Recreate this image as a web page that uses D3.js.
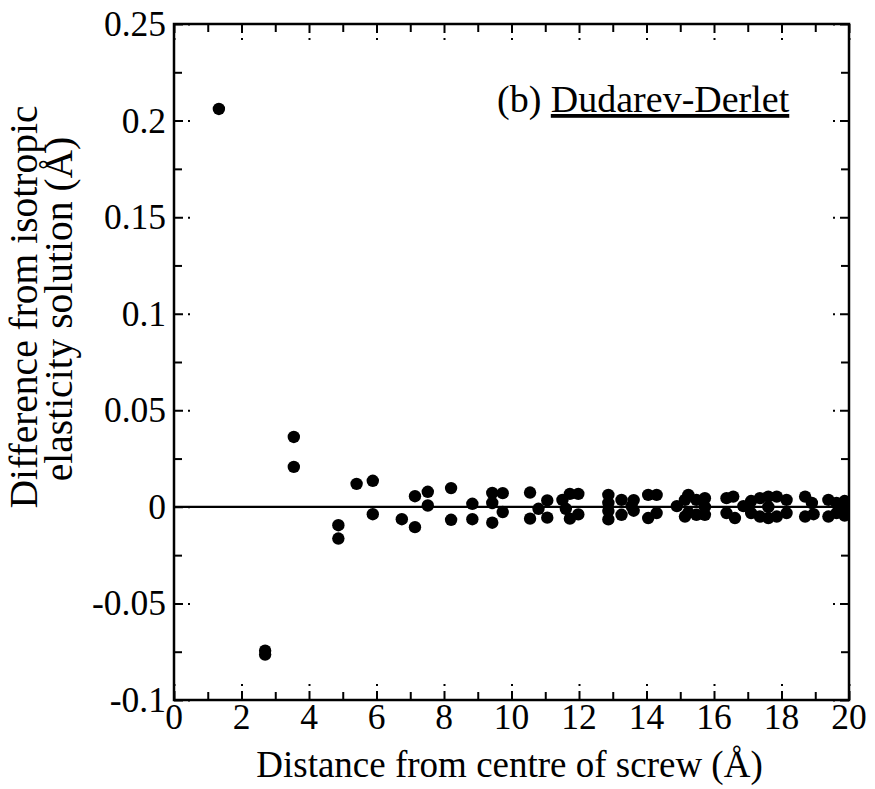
<!DOCTYPE html>
<html><head><meta charset="utf-8">
<script src="https://cdn.jsdelivr.net/npm/d3@7"></script>
<style>body{margin:0;background:#fff}svg{display:block}text{font-family:"Liberation Serif","Times New Roman",serif;fill:#000}</style>
</head><body><svg id="c" width="875" height="789"></svg>
<script>
const distance = [1.33,2.70,2.70,3.55,3.55,4.87,4.87,5.41,5.89,5.89,6.75,7.14,7.14,7.52,7.52,8.21,8.21,8.84,8.84,
 9.43,9.43,9.43,9.74,9.74,10.55,10.55,10.80,11.06,11.06,11.51,11.61,11.73,11.73,11.98,11.98,
 12.87,12.87,12.87,12.87,13.26,13.26,13.56,13.62,13.62,14.05,14.05,14.30,14.30,14.90,
 15.14,15.24,15.14,15.24,15.48,15.48,15.73,15.73,15.73,16.37,16.37,16.57,16.62,16.87,
 17.10,17.10,17.36,17.36,17.61,17.61,17.61,17.86,17.86,18.15,18.15,18.70,18.70,18.90,18.95,
 19.39,19.39,19.63,19.63,19.87,19.87,19.90];
const difference = [0.206,-0.0745,-0.0765,0.0362,0.0207,-0.0095,-0.0164,0.0119,0.0135,-0.0038,-0.0064,0.0055,-0.0105,0.0078,0.0007,0.0097,-0.0067,0.0016,-0.0064,
 0.0072,0.0020,-0.0082,0.0071,-0.0027,0.0074,-0.0061,-0.0010,0.0033,-0.0056,0.0036,-0.0010,0.0067,-0.0061,0.0067,-0.0039,
 0.0062,0.0020,-0.0022,-0.0065,0.0036,-0.0041,0.0004,0.0035,-0.0020,0.0062,-0.0058,0.0062,-0.0032,0.0004,
 0.0036,0.0062,-0.0050,-0.0030,0.0036,-0.0041,0.0045,0.0000,-0.0041,0.0045,-0.0032,0.0053,-0.0058,0.0004,
 0.0030,-0.0032,0.0045,-0.0050,0.0053,0.0000,-0.0058,0.0053,-0.0050,0.0036,-0.0032,0.0053,-0.0050,0.0020,-0.0038,
 0.0036,-0.0050,0.0020,-0.0032,0.0030,-0.0045,0.0000];
const xTicks = [0,2,4,6,8,10,12,14,16,18,20];
const xMinor = [1,3,5,7,9,11,13,15,17,19];
const yTicks = [-0.1,-0.05,0,0.05,0.1,0.15,0.2,0.25];
const yMinor = [-0.075,-0.025,0.025,0.075,0.125,0.175,0.225];
const yTickLabels = ["-0.1","-0.05","0","0.05","0.1","0.15","0.2","0.25"];

const L=174,T=24,R=849,B=700;
const svg=d3.select("#c");
const x=d3.scaleLinear().domain([0,20]).range([L,R]);
const y=d3.scaleLinear().domain([-0.1,0.25]).range([B,T]);

svg.append("clipPath").attr("id","clip").append("rect").attr("x",L).attr("y",T).attr("width",R-L).attr("height",B-T);

// zero line
svg.append("line").attr("x1",L).attr("x2",R).attr("y1",y(0)).attr("y2",y(0)).attr("stroke","#000").attr("stroke-width",2.2);

// points
svg.append("g").attr("clip-path","url(#clip)").selectAll("circle").data(distance).join("circle")
 .attr("cx",d=>x(d)).attr("cy",(d,i)=>y(difference[i])).attr("r",6.2).attr("fill","#000");

// axes with inward ticks
function tickStyle(g){g.select(".domain").remove();g.selectAll("line").attr("stroke","#000").attr("stroke-width",2);}
const maj=16, mnr=8;
svg.append("g").attr("transform",`translate(0,${B})`).call(d3.axisBottom(x).tickValues(xTicks).tickSize(-maj).tickFormat(""))
 .call(tickStyle).selectAll("line").attr("stroke-dasharray","9,5,2");
svg.append("g").attr("transform",`translate(0,${B})`).call(d3.axisBottom(x).tickValues(xMinor).tickSize(-mnr).tickFormat("")).call(tickStyle);
svg.append("g").attr("transform",`translate(0,${T})`).call(d3.axisTop(x).tickValues(xTicks).tickSize(-maj).tickFormat(""))
 .call(tickStyle).selectAll("line").attr("stroke-dasharray","9,5,2");
svg.append("g").attr("transform",`translate(0,${T})`).call(d3.axisTop(x).tickValues(xMinor).tickSize(-mnr).tickFormat("")).call(tickStyle);
svg.append("g").attr("transform",`translate(${L},0)`).call(d3.axisLeft(y).tickValues(yTicks).tickSize(-maj).tickFormat(""))
 .call(tickStyle).selectAll("line").attr("stroke-dasharray","9,5,2");
svg.append("g").attr("transform",`translate(${L},0)`).call(d3.axisLeft(y).tickValues(yMinor).tickSize(-mnr).tickFormat("")).call(tickStyle);
svg.append("g").attr("transform",`translate(${R},0)`).call(d3.axisRight(y).tickValues(yTicks).tickSize(-maj).tickFormat(""))
 .call(tickStyle).selectAll("line").attr("stroke-dasharray","9,5,2");
svg.append("g").attr("transform",`translate(${R},0)`).call(d3.axisRight(y).tickValues(yMinor).tickSize(-mnr).tickFormat("")).call(tickStyle);

// frame
svg.append("rect").attr("x",L).attr("y",T).attr("width",R-L).attr("height",B-T).attr("fill","none").attr("stroke","#000").attr("stroke-width",2.5);

// tick labels
svg.append("g").selectAll("text").data(xTicks).join("text").attr("x",d=>x(d)).attr("y",B+29).attr("text-anchor","middle")
 .attr("font-size",35.5).text(d=>d);
svg.append("g").selectAll("text").data(yTicks).join("text").attr("x",L-8).attr("y",d=>y(d)+12).attr("text-anchor","end")
 .attr("font-size",35.5).text((d,i)=>yTickLabels[i]);

// axis titles
svg.append("text").attr("x",(L+R)/2-2).attr("y",777).attr("text-anchor","middle").attr("font-size",37).text("Distance from centre of screw (Å)");
svg.append("text").attr("transform","translate(37,307) rotate(-90)").attr("text-anchor","middle").attr("font-size",39.5).text("Difference from isotropic");
svg.append("text").attr("transform","translate(72,309) rotate(-90)").attr("text-anchor","middle").attr("font-size",39.5).text("elasticity solution (Å)");

// annotation
const ann=svg.append("text").attr("x",497).attr("y",112).attr("font-size",38);
ann.append("tspan").text("(b) ");
ann.append("tspan").attr("text-decoration","underline").text("Dudarev-Derlet");
</script></body></html>
